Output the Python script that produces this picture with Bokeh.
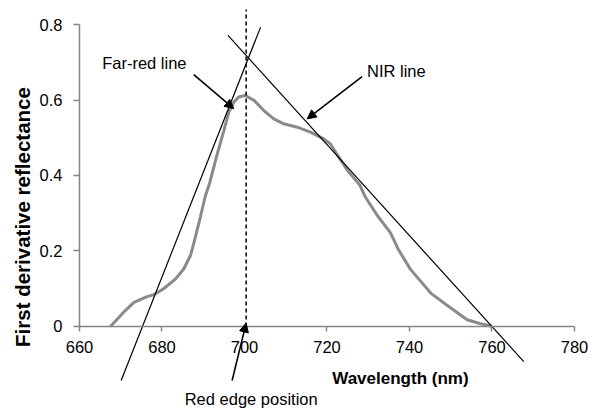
import math
from bokeh.plotting import figure
from bokeh.models import Range1d, LinearAxis, FixedTicker, Arrow, NormalHead, Label
from bokeh.embed import file_html
from bokeh.resources import INLINE

# ---- data ----
wavelength = [667.5, 670.7, 673.2, 676.4, 678.0, 680.4, 683.3, 685.3, 686.9, 688.1,
              689.3, 690.5, 691.5, 693.4, 695.0, 696.2, 697.4, 698.6, 700.2, 702.3,
              704.7, 707.1, 709.5, 712.8, 716.0, 719.2, 720.8, 722.5, 725.0, 728.0,
              729.3, 732.2, 735.4, 737.2, 740.2, 745.3, 749.5, 754.0, 757.0, 759.2, 760.0]
derivative = [0.000, 0.038, 0.064, 0.079, 0.084, 0.100, 0.126, 0.153, 0.188, 0.237,
              0.290, 0.345, 0.378, 0.457, 0.519, 0.568, 0.594, 0.608, 0.612, 0.599,
              0.572, 0.550, 0.537, 0.528, 0.515, 0.497, 0.484, 0.455, 0.413, 0.374,
              0.343, 0.294, 0.248, 0.206, 0.152, 0.087, 0.053, 0.018, 0.008, 0.003, 0.000]

x_ticks = [660, 680, 700, 720, 740, 760, 780]
y_ticks = [0, 0.2, 0.4, 0.6, 0.8]
y_tick_labels = ["0", "0.2", "0.4", "0.6", "0.8"]

farred_x = [670.1, 703.9]
farred_y = [-0.143, 0.793]
nir_x = [696.0, 767.7]
nir_y = [0.771, -0.093]

red_edge_x = [700.4, 700.4]
red_edge_y = [0.0, 0.840]

arrow_x_start = [687.7, 728.5, 697.0]
arrow_y_start = [0.667, 0.662, -0.143]
arrow_x_end = [697.4, 715.2, 700.4]
arrow_y_end = [0.577, 0.550, 0.009]

note_text = ["Far-red line", "NIR line", "Red edge position"]
note_x = [665.5, 729.7, 685.5]
note_y = [0.697, 0.676, -0.193]

x_title = "Wavelength (nm)"
x_title_pos = (737.8, -0.138)
y_title = "First derivative reflectance"
y_title_pos = (646.1, 0.290)

FONT = "Liberation Sans"
AXIS_COLOR = "#858585"

p = figure(width=589, height=411,
           x_range=Range1d(640.85, 783.64), y_range=Range1d(-0.2252, 0.8636),
           x_axis_type=None, y_axis_type=None,
           output_backend="svg", toolbar_location=None,
           min_border_left=0, min_border_right=0,
           min_border_top=0, min_border_bottom=0)
p.outline_line_color = None
p.background_fill_color = "white"
p.border_fill_color = "white"

# y axis at x = 660
yaxis = LinearAxis(fixed_location=660, bounds=(0, 0.8), ticker=FixedTicker(ticks=y_ticks))
yaxis.major_label_overrides = {t: s for t, s in zip(y_ticks, y_tick_labels)}
yaxis.major_label_text_font = FONT
yaxis.major_label_text_font_size = "16.5px"
yaxis.major_label_text_color = "black"
yaxis.major_label_standoff = 11
yaxis.axis_line_color = AXIS_COLOR
yaxis.axis_line_width = 1.5
yaxis.major_tick_line_color = AXIS_COLOR
yaxis.major_tick_line_width = 1.5
yaxis.major_tick_in = 0
yaxis.major_tick_out = 6
yaxis.minor_tick_line_color = None
p.add_layout(yaxis, "left")

# x axis placed at y = 0
xaxis = LinearAxis(fixed_location=0, bounds=(660, 780), ticker=FixedTicker(ticks=x_ticks))
xaxis.major_label_text_font = FONT
xaxis.major_label_text_font_size = "16.5px"
xaxis.major_label_text_color = "black"
xaxis.major_label_standoff = 10
xaxis.axis_line_color = AXIS_COLOR
xaxis.axis_line_width = 1.5
xaxis.major_tick_line_color = AXIS_COLOR
xaxis.major_tick_line_width = 1.5
xaxis.major_tick_in = 0
xaxis.major_tick_out = 5
xaxis.minor_tick_line_color = None
p.add_layout(xaxis, "below")

# curve
p.line(wavelength, derivative, line_color="#8a8a8a", line_width=3)

# tangent lines
p.line(farred_x, farred_y, line_color="black", line_width=1.2)
p.line(nir_x, nir_y, line_color="black", line_width=1.2)

# red edge dashed line
p.line(red_edge_x, red_edge_y, line_color="black", line_width=1.5, line_dash="4 3")

# arrows
for xs, ys, xe, ye in zip(arrow_x_start, arrow_y_start, arrow_x_end, arrow_y_end):
    p.add_layout(Arrow(end=NormalHead(size=9, fill_color="black", line_color="black", line_width=1),
                       x_start=xs, y_start=ys, x_end=xe, y_end=ye,
                       line_color="black", line_width=1.6))

# notes
for t, x, y in zip(note_text, note_x, note_y):
    p.add_layout(Label(x=x, y=y, text=t, text_font=FONT, text_font_size="16.5px",
                       text_color="black", text_baseline="alphabetic", text_align="left"))

p.add_layout(Label(x=x_title_pos[0], y=x_title_pos[1], text=x_title, text_font=FONT,
                   text_font_size="17px", text_font_style="bold", text_color="black",
                   text_baseline="alphabetic", text_align="center"))

p.add_layout(Label(x=y_title_pos[0], y=y_title_pos[1], text=y_title, text_font=FONT,
                   text_font_size="20.5px", text_font_style="bold", text_color="black",
                   angle=math.pi / 2, text_baseline="middle", text_align="center"))

open("out.html", "w").write(file_html(p, INLINE))
